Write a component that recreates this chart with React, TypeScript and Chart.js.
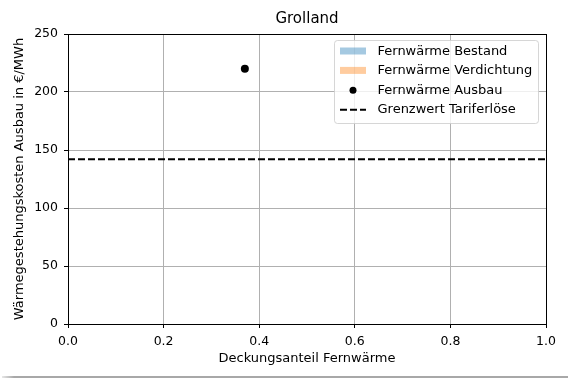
import React, { useEffect, useRef } from "react";
import { Chart, registerables } from "chart.js";

Chart.register(...registerables);

const TITLE = "Grolland";
const X_LABEL = "Deckungsanteil Fernwärme";
const Y_LABEL = "Wärmegestehungskosten Ausbau in €/MWh";

const SERIES_LABELS = [
  "Fernwärme Bestand",
  "Fernwärme Verdichtung",
  "Fernwärme Ausbau",
  "Grenzwert Tariferlöse",
];

const bestandData: { x: number; y: number }[] = [];
const verdichtungData: { x: number; y: number }[] = [];
const ausbauX = [0.37];
const ausbauY = [220];
const grenzwert = 142;
const grenzwertX = [0, 1];

const X_MIN = 0;
const X_MAX = 1;
const X_STEP = 0.2;
const Y_MIN = 0;
const Y_MAX = 250;
const Y_STEP = 50;

const FONT = "'DejaVu Sans', sans-serif";

export default function App() {
  const ref = useRef<HTMLCanvasElement | null>(null);

  useEffect(() => {
    document.body.style.margin = "0";
    const canvas = ref.current;
    if (!canvas) return;

    const align = (p: number) => Math.round(p - 0.5) + 0.5;

    const overlay = {
      id: "overlay",
      afterDraw(chart: any) {
        const ctx = chart.ctx;
        const a = chart.chartArea;
        ctx.save();
        // frame
        ctx.strokeStyle = "#000";
        ctx.lineWidth = 1;
        const l = align(a.left);
        const t = align(a.top);
        const r = align(a.right);
        const b = align(a.bottom);
        ctx.strokeRect(l, t, r - l, b - t);

        // title
        ctx.fillStyle = "#000";
        ctx.font = `15px ${FONT}`;
        ctx.textAlign = "center";
        ctx.textBaseline = "middle";
        const cx = (a.left + a.right) / 2;
        ctx.fillText(TITLE, cx, 19);

        // axis titles
        ctx.font = `13px ${FONT}`;
        ctx.fillText(X_LABEL, cx, 359);
        ctx.save();
        ctx.translate(20, (a.top + a.bottom) / 2);
        ctx.rotate(-Math.PI / 2);
        ctx.fillText(Y_LABEL, 0, 0);
        ctx.restore();

        // legend
        const bx = 334.5, by = 40.5, bw = 204, bh = 83, rad = 3;
        ctx.beginPath();
        ctx.moveTo(bx + rad, by);
        ctx.lineTo(bx + bw - rad, by);
        ctx.arcTo(bx + bw, by, bx + bw, by + rad, rad);
        ctx.lineTo(bx + bw, by + bh - rad);
        ctx.arcTo(bx + bw, by + bh, bx + bw - rad, by + bh, rad);
        ctx.lineTo(bx + rad, by + bh);
        ctx.arcTo(bx, by + bh, bx, by + bh - rad, rad);
        ctx.lineTo(bx, by + rad);
        ctx.arcTo(bx, by, bx + rad, by, rad);
        ctx.closePath();
        ctx.fillStyle = "rgba(255,255,255,0.8)";
        ctx.fill();
        ctx.strokeStyle = "rgba(204,204,204,0.8)";
        ctx.stroke();

        const ds = chart.data.datasets;
        const hx0 = 340, hx1 = 366, tx = 377.5;
        for (let i = 0; i < ds.length; i++) {
          const y = 51.5 + i * 19.4;
          const d = ds[i];
          if (i < 2) {
            ctx.fillStyle = d.backgroundColor;
            ctx.fillRect(hx0, y - 4, hx1 - hx0, 7);
          } else if (i === 2) {
            ctx.fillStyle = "#000";
            ctx.beginPath();
            ctx.arc((hx0 + hx1) / 2, y, 3.5, 0, Math.PI * 2);
            ctx.fill();
          } else {
            ctx.strokeStyle = "#000";
            ctx.lineWidth = 2;
            ctx.setLineDash([7, 3]);
            ctx.beginPath();
            ctx.moveTo(hx0, y);
            ctx.lineTo(hx1, y);
            ctx.stroke();
            ctx.setLineDash([]);
          }
          ctx.fillStyle = "#000";
          ctx.font = `13px ${FONT}`;
          ctx.textAlign = "left";
          ctx.textBaseline = "middle";
          ctx.fillText(d.label, tx, y);
        }
        ctx.restore();
      },
    };

    const chart = new Chart(canvas, {
      type: "scatter",
      data: {
        datasets: [
          {
            type: "line",
            label: SERIES_LABELS[0],
            data: bestandData,
            backgroundColor: "rgba(31,119,180,0.4)",
            borderWidth: 0,
            fill: true,
            pointRadius: 0,
          },
          {
            type: "line",
            label: SERIES_LABELS[1],
            data: verdichtungData,
            backgroundColor: "rgba(255,127,14,0.4)",
            borderWidth: 0,
            fill: true,
            pointRadius: 0,
          },
          {
            type: "scatter",
            label: SERIES_LABELS[2],
            data: ausbauX.map((x, i) => ({ x, y: ausbauY[i] })),
            backgroundColor: "#000",
            borderColor: "#000",
            pointRadius: 4,
            pointBorderWidth: 0,
          },
          {
            type: "line",
            label: SERIES_LABELS[3],
            data: grenzwertX.map((x) => ({ x, y: grenzwert })),
            borderColor: "#000",
            borderWidth: 2,
            borderDash: [7, 3],
            pointRadius: 0,
            fill: false,
          },
        ],
      } as any,
      options: {
        responsive: false,
        animation: false,
        devicePixelRatio: 1,
        layout: { padding: { left: 0, right: 22, top: 34, bottom: 0 } },
        plugins: {
          legend: { display: false },
          title: { display: false },
          tooltip: { enabled: false },
        },
        scales: {
          x: {
            type: "linear",
            min: X_MIN,
            max: X_MAX,
            afterFit: (s: any) => {
              s.height = 55;
            },
            ticks: {
              stepSize: X_STEP,
              callback: (v: any) => Number(v).toFixed(1),
              font: { family: FONT, size: 12.5 },
              color: "#000",
              padding: 6,
              maxRotation: 0,
            },
            grid: {
              color: "#b0b0b0",
              lineWidth: 1,
              tickColor: "#000",
              tickLength: 4,
            },
            border: { display: true, color: "#000", width: 1 },
          },
          y: {
            type: "linear",
            min: Y_MIN,
            max: Y_MAX,
            afterFit: (s: any) => {
              s.width = 68;
            },
            ticks: {
              stepSize: Y_STEP,
              font: { family: FONT, size: 12.5 },
              color: "#000",
              padding: 6,
            },
            grid: {
              color: "#b0b0b0",
              lineWidth: 1,
              tickColor: "#000",
              tickLength: 4,
            },
            border: { display: true, color: "#000", width: 1 },
          },
        },
      } as any,
      plugins: [overlay],
    });

    return () => chart.destroy();
  }, []);

  return (
    <div style={{ position: "absolute", left: 0, top: 0, width: 568, height: 379, background: "#fff" }}>
      <canvas ref={ref} width={568} height={379} style={{ display: "block" }} />
      <div
        style={{
          position: "absolute",
          left: 2,
          top: 376,
          width: 566,
          height: 2,
          background: "linear-gradient(to right, #e8e8e8 0px, #a8a8a8 12px, #a8a8a8 100%)",
        }}
      />
    </div>
  );
}
